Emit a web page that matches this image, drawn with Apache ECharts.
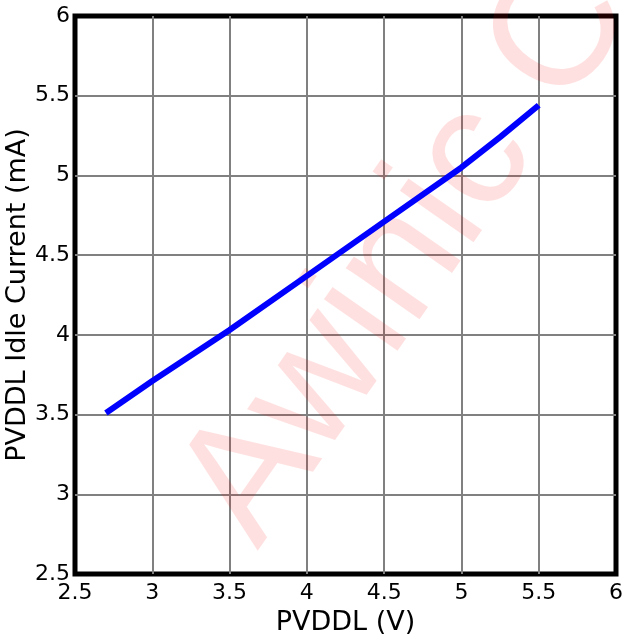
<!DOCTYPE html>
<html>
<head>
<meta charset="utf-8">
<script src="https://cdn.jsdelivr.net/npm/echarts@6/dist/echarts.min.js"></script>
<style>
html,body{margin:0;padding:0;background:#fff;}
#chart{width:623px;height:638px;}
</style>
</head>
<body>
<div id="chart"></div>
<script>
// Data
var voltage = [2.7, 3.0, 3.5, 4.0, 4.5, 5.0, 5.25, 5.5];
var current = [3.51, 3.71, 4.03, 4.37, 4.71, 5.05, 5.24, 5.44];
var xTitle = 'PVDDL (V)';
var yTitle = 'PVDDL Idle Current (mA)';
var watermark = 'Awinic Confidential';

var points = voltage.map(function (v, i) { return [v, current[i]]; });
var FONT = 'DejaVu Sans';

var chart = echarts.init(document.getElementById('chart'), null, {renderer: 'canvas'});
chart.setOption({
  animation: false,
  backgroundColor: '#ffffff',
  grid: {
    left: 75, top: 16, width: 541, height: 558,
    containLabel: false, outerBoundsMode: 'none',
    show: true, borderColor: '#000', borderWidth: 5, backgroundColor: 'transparent'
  },
  graphic: [{
    type: 'text',
    x: 219, y: 524,
    rotation: 55 * Math.PI / 180,
    z: 1,
    silent: true,
    style: {
      text: watermark,
      font: '170px "Liberation Sans"',
      fill: 'rgba(255,0,0,0.12)',
      textAlign: 'left',
      textVerticalAlign: 'middle'
    }
  }],
  xAxis: {
    type: 'value', min: 2.5, max: 6, interval: 0.5,
    name: xTitle, nameLocation: 'middle', nameGap: 35, nameMoveOverlap: false,
    nameTextStyle: {fontFamily: FONT, fontSize: 27, color: '#000'},
    axisLine: {show: false}, axisTick: {show: false},
    axisLabel: {fontFamily: FONT, fontSize: 22, color: '#000', margin: 8},
    splitLine: {show: true, showMinLine: false, showMaxLine: false, lineStyle: {color: '#808080', width: 2}}
  },
  yAxis: {
    type: 'value', min: 2.5, max: 6, interval: 0.5,
    name: yTitle, nameLocation: 'middle', nameGap: 44, nameMoveOverlap: false,
    nameTextStyle: {fontFamily: FONT, fontSize: 27, color: '#000'},
    axisLine: {show: false}, axisTick: {show: false},
    axisLabel: {fontFamily: FONT, fontSize: 22, color: '#000', margin: 5},
    splitLine: {show: true, showMinLine: false, showMaxLine: false, lineStyle: {color: '#808080', width: 2}}
  },
  series: [{
    type: 'line',
    data: points,
    showSymbol: false,
    symbol: 'none',
    smooth: false,
    z: 5,
    lineStyle: {color: '#0000ff', width: 6, cap: 'butt'}
  }]
});
</script>
</body>
</html>
